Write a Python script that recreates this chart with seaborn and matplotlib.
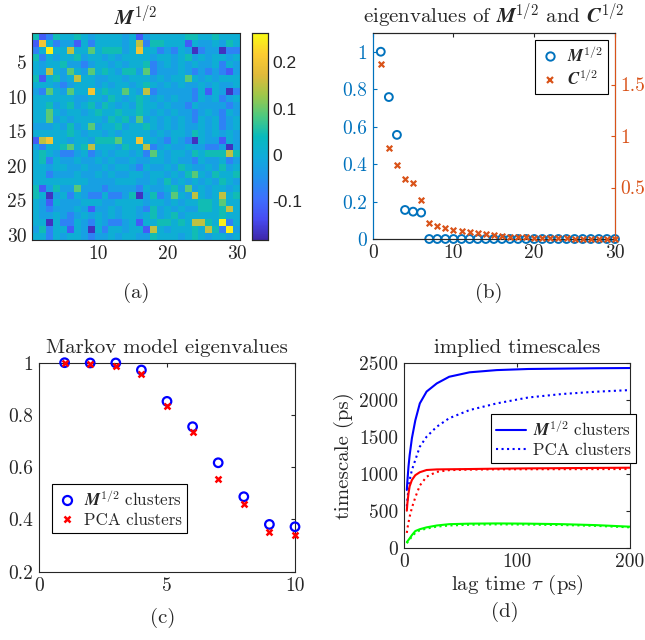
import numpy as np
import matplotlib
matplotlib.use("Agg")
import matplotlib.pyplot as plt
from matplotlib.colors import LinearSegmentedColormap
from matplotlib.lines import Line2D
import seaborn as sns

# ---------------- data ----------------
# (a) M^{1/2} matrix, one char per cell, coded by colour level
heat_rows = [
    "tBbtcctc.c" "ccc.cB.ccc" "ccttcctccc",
    "BOcb..Bcbc" "ccc.cGbttc" "ccBc..c.tc",
    "bcYccGccgc" "ttt.cOccb." "bc.Db..Dbb",
    "tbc.cct.cc" ".c.cccc.cc" ".ct.c.cc.c",
    "c.cct..b.c" "c.c.cctb.c" ".c.c..cbc.",
    "c.Gc.gc.gc" "tc.tt.gb.." ".c.b.b.bB.",
    "tBct.cGcc." ".cc.ccc.c." "ccgc.c.ccc",
    "ccc.b.ccc." "c.cc.ctc.c" ".c..c.c..c",
    ".bgc.gccOc" "tccgc.Gb.." "...bcBc.Db",
    "cccccc..cc" ".tc.ctc.c." "c..bc.cb.c",
    "cct.ct.ct." "tc.c.tcc.c" "..bc....b.",
    "ccgc.cc.ct" "cctcctc.c." "c..b.c.bc.",
    "ccg.c.cccc" ".tct.g.c.c" ".c.bc.cb.c",
    "...c.t.cg." "cct.cctc.c" ".c..c.cb.c",
    "ccccctc.cc" ".c.cccc.c." "cc.tc.c.c.",
    "BGOcc.cc.t" "ttgccOcc.b" "c.bDc..Bc.",
    ".bcctgctGc" "cc.tccGb.c" "..c..bb.D.",
    "ctc.bb.cb." "c.cc.cbgc." "cc.tctttGt",
    "ctbc..c..c" ".c..c..cc." "c..bc..cb.",
    "cc.cc..c.." "c.cc.bc..c" ".tc..c.t.c",
    "ccb...c..c" ".c..cc.cc." "c.tgc.tcct",
    "cccccccc.." "..ccc..c.t" ".c.c.c.tc.",
    "tB.t..g..." "b....bc..c" "t.g.c.cc.c",
    "tcD.cbc.bb" "cbb.tD.tb." "gc.Gc.cGct",
    "c.Bc...ccc" "..cccc.cc." "c.ccttcgcc",
    "c.b...c.B." ".c.cc.bt.c" ".c..ttctGc",
    "c..c.b.c.c" ".c.cc.ct.c" "t.ccccctcc",
    "ccDcbbc.bc" ".bb.cBcctt" "ctcGGtcYbc",
    ".tbccBc.Dc" "bcc.ccBGc." "ccctcGtbY.",
    "ccbc.cc.b." ".c.cc..tcc" "c.ctc.cc.c",
]
level_codes = "DBb.ctgGOY"
level_values = [-0.17, -0.12, -0.07, -0.025, 0.005, 0.045, 0.09, 0.15, 0.20, 0.25]

# (b) eigenvalues
eig_index = list(range(1, 31))
m_eig = [1.0, 0.758, 0.556, 0.155, 0.146, 0.141, 0, 0, 0, 0,
         0, 0, 0, 0, 0, 0, 0, 0, 0, 0,
         0, 0, 0, 0, 0, 0, 0, 0, 0, 0]
c_eig = [1.696, 0.879, 0.722, 0.578, 0.542, 0.379, 0.160, 0.127, 0.111, 0.091,
         0.078, 0.066, 0.056, 0.046, 0.039, 0.029, 0.023, 0.020, 0.016, 0.013,
         0.010, 0.009, 0.008, 0.007, 0.004, 0.003, 0.003, 0.002, 0.001, 0.001]

# (c) Markov model eigenvalues
markov_k = list(range(1, 11))
markov_m = [1.0, 0.999, 0.999, 0.972, 0.852, 0.755, 0.617, 0.487, 0.381, 0.372]
markov_pca = [1.0, 0.995, 0.987, 0.957, 0.834, 0.735, 0.556, 0.459, 0.353, 0.340]

# (d) implied timescales (ps)
lag = [2.5, 3, 4, 5, 7, 10, 14, 20, 29, 40, 58, 82, 110, 140, 170, 200]
ts_blue_m = [780, 900, 1100, 1250, 1480, 1720, 1950, 2110, 2220, 2310, 2370, 2400, 2415, 2420, 2425, 2428]
ts_blue_p = [560, 650, 800, 915, 1050, 1185, 1365, 1500, 1635, 1750, 1860, 1950, 2030, 2077, 2108, 2130]
ts_red_m = [500, 600, 734, 830, 915, 980, 1020, 1050, 1058, 1060, 1063, 1068, 1072, 1075, 1078, 1081]
ts_red_p = [200, 260, 340, 419, 540, 680, 840, 960, 1025, 1048, 1055, 1059, 1060, 1061, 1062, 1063]
ts_green_m = [75, 85, 105, 126, 170, 225, 250, 275, 300, 318, 325, 328, 325, 318, 305, 284]
ts_green_p = [60, 70, 90, 110, 150, 200, 235, 258, 285, 300, 310, 315, 312, 306, 295, 275]

# ---------------- style ----------------
sns.set_theme(style="white")
plt.rcParams.update({
    "font.family": "serif",
    "font.serif": ["cmr10"],
    "mathtext.fontset": "cm",
    "axes.unicode_minus": False,
    "axes.formatter.use_mathtext": True,
    "font.size": 14,
    "axes.edgecolor": "#262626",
    "axes.linewidth": 0.8,
    "xtick.color": "#262626",
    "ytick.color": "#262626",
})

TICK_FS = 14
TITLE_FS = 15
LEG_FS = 12.2

parula = LinearSegmentedColormap.from_list("parula", [
    (0.00, (0.2422, 0.1504, 0.6603)),
    (0.10, (0.2780, 0.2950, 0.9500)),
    (0.20, (0.2400, 0.4400, 0.9950)),
    (0.30, (0.1300, 0.5700, 0.9300)),
    (0.40, (0.0600, 0.6700, 0.8600)),
    (0.50, (0.0300, 0.7300, 0.7400)),
    (0.60, (0.3000, 0.7900, 0.5000)),
    (0.70, (0.6200, 0.7800, 0.2900)),
    (0.80, (0.8800, 0.7300, 0.2300)),
    (0.90, (0.9900, 0.8000, 0.1900)),
    (1.00, (0.9769, 0.9839, 0.0805)),
])

M_BLUE = (0.0, 0.447, 0.741)
C_ORANGE = (0.85, 0.325, 0.098)

fig = plt.figure(figsize=(6.45, 6.40), dpi=100)
W, H = 645, 640


def px_axes(x0, y0, x1, y1):
    return fig.add_axes([x0 / W, 1 - y1 / H, (x1 - x0) / W, (y1 - y0) / H])


def matlab_ticks(ax):
    ax.tick_params(direction="in", length=3, width=0.8, top=True, right=True,
                   labelsize=TICK_FS, pad=4)


def box_legend(ax, handles, labels, anchor, loc, hl=1.2):
    leg = ax.legend(handles, labels, loc=loc, bbox_to_anchor=anchor, borderaxespad=0,
                    fancybox=False, edgecolor="black", framealpha=1, fontsize=LEG_FS,
                    handletextpad=0.4, handlelength=hl, borderpad=0.3, labelspacing=0.25)
    leg.get_frame().set_linewidth(0.8)
    return leg


bold_m = r"$\mathbfit{M}^{1/2}$"
bold_c = r"$\mathbfit{C}^{1/2}$"

# ---------------- (a) heatmap ----------------
mat = np.array([[level_values[level_codes.index(ch)] for ch in row] for row in heat_rows])
ax_a = px_axes(32.3, 33.3, 240, 240)
cax = px_axes(252, 33.3, 267.5, 240)
sns.heatmap(mat, ax=ax_a, cbar_ax=cax, cmap=parula, vmin=-0.185, vmax=0.263,
            cbar_kws={"ticks": [-0.1, 0, 0.1, 0.2]})
for s in ax_a.spines.values():
    s.set_visible(True)
    s.set_color("#262626")
    s.set_linewidth(0.8)
ax_a.set_xticks([9.5, 19.5, 29.5])
ax_a.set_xticklabels(["10", "20", "30"], rotation=0)
ax_a.set_yticks([4.5, 9.5, 14.5, 19.5, 24.5, 29.5])
ax_a.set_yticklabels(["5", "10", "15", "20", "25", "30"], rotation=0)
matlab_ticks(ax_a)
ax_a.set_title(bold_m, fontsize=TITLE_FS, pad=6)
cax.tick_params(direction="in", length=3, width=0.8, right=True, labelsize=12.5)
cax.set_yticklabels(["-0.1", "0", "0.1", "0.2"], family="Liberation Sans")
for s in cax.spines.values():
    s.set_visible(True)
    s.set_color("#262626")
    s.set_linewidth(0.8)
fig.text(136 / W, 1 - 293 / H, "(a)", ha="center", va="center", fontsize=15)

# ---------------- (b) eigenvalues ----------------
ax_b = px_axes(372.7, 33, 615, 239)
sns.scatterplot(x=eig_index, y=m_eig, ax=ax_b, marker="o", s=32,
                facecolor="none", edgecolor=M_BLUE, linewidth=1.4, clip_on=False, zorder=3)
ax_b.set_xlim(0, 30)
ax_b.set_ylim(0, 1.1)
ax_b.set_xticks([0, 10, 20, 30])
ax_b.set_xticklabels(["0", "10", "20", "30"])
ax_b.set_yticks([0, 0.2, 0.4, 0.6, 0.8, 1.0])
ax_b.set_yticklabels(["0", "0.2", "0.4", "0.6", "0.8", "1"])
ax_b.tick_params(direction="in", length=3, width=0.8, top=True, right=False,
                 labelsize=TICK_FS, pad=4)
ax_b.tick_params(axis="y", colors=M_BLUE)
ax_b.spines["left"].set_color(M_BLUE)

ax_b2 = ax_b.twinx()
sns.scatterplot(x=eig_index, y=c_eig, ax=ax_b2, marker="x", s=16,
                color=C_ORANGE, linewidth=1.6, clip_on=False, zorder=3)
ax_b2.set_ylim(0, 2.0)
ax_b2.set_yticks([0.5, 1.0, 1.5])
ax_b2.set_yticklabels(["0.5", "1", "1.5"])
ax_b2.tick_params(direction="in", length=3, width=0.8, labelsize=TICK_FS, pad=4,
                  colors=C_ORANGE)
ax_b2.spines["right"].set_color(C_ORANGE)
ax_b2.spines["left"].set_color(M_BLUE)
ax_b2.set_title("eigenvalues of " + bold_m + " and " + bold_c, fontsize=TITLE_FS, pad=7)
handles_b = [
    Line2D([], [], marker="o", ls="none", mfc="none", mec=M_BLUE, mew=1.4, ms=6),
    Line2D([], [], marker="x", ls="none", color=C_ORANGE, mew=1.6, ms=4.5),
]
box_legend(ax_b2, handles_b, [bold_m, bold_c], (0.971, 0.966), "upper right")
fig.text(489 / W, 1 - 293 / H, "(b)", ha="center", va="center", fontsize=15)

# ---------------- (c) Markov eigenvalues ----------------
ax_c = px_axes(39, 362.7, 295, 571.7)
sns.scatterplot(x=markov_k, y=markov_m, ax=ax_c, marker="o", s=38,
                facecolor="none", edgecolor="blue", linewidth=1.6, clip_on=False, zorder=3)
sns.scatterplot(x=markov_k, y=markov_pca, ax=ax_c, marker="x", s=18,
                color="red", linewidth=1.8, clip_on=False, zorder=4)
ax_c.set_xlim(0, 10)
ax_c.set_ylim(0.2, 1.0)
ax_c.set_xticks([0, 5, 10])
ax_c.set_xticklabels(["0", "5", "10"])
ax_c.set_yticks([0.2, 0.4, 0.6, 0.8, 1.0])
ax_c.set_yticklabels(["0.2", "0.4", "0.6", "0.8", "1"])
matlab_ticks(ax_c)
ax_c.set_title("Markov model eigenvalues", fontsize=TITLE_FS, pad=7)
handles_c = [
    Line2D([], [], marker="o", ls="none", mfc="none", mec="blue", mew=1.6, ms=6.5),
    Line2D([], [], marker="x", ls="none", color="red", mew=1.8, ms=4.5),
]
box_legend(ax_c, handles_c, [bold_m + " clusters", "PCA clusters"], (0.051, 0.42), "upper left")
fig.text(163 / W, 1 - 618 / H, "(c)", ha="center", va="center", fontsize=15)

# ---------------- (d) implied timescales ----------------
ax_d = px_axes(404, 362.7, 630, 547.7)
for vals, col, ls in [(ts_blue_m, "blue", "-"), (ts_blue_p, "blue", ":"),
                      (ts_red_m, "red", "-"), (ts_red_p, "red", ":"),
                      (ts_green_m, "lime", "-"), (ts_green_p, "lime", ":")]:
    sns.lineplot(x=lag, y=vals, ax=ax_d, color=col, linestyle=ls, linewidth=1.5)
ax_d.set_xlim(0, 200)
ax_d.set_ylim(0, 2500)
ax_d.set_xticks([0, 100, 200])
ax_d.set_yticks([0, 500, 1000, 1500, 2000, 2500])
ax_d.set_yticklabels(["0", "500", "1000", "1500", "2000", "2500"])
ax_d.set_xticklabels(["0", "100", "200"])
matlab_ticks(ax_d)
ax_d.set_title("implied timescales", fontsize=TITLE_FS, pad=7)
ax_d.set_xlabel(r"lag time $\tau$ (ps)", fontsize=TITLE_FS, labelpad=1)
ax_d.set_ylabel("timescale (ps)", fontsize=TITLE_FS, labelpad=4)
handles_d = [Line2D([], [], color="blue", lw=1.5, ls="-"),
             Line2D([], [], color="blue", lw=1.5, ls=":")]
box_legend(ax_d, handles_d, [bold_m + " clusters", "PCA clusters"], (1.027, 0.723),
           "upper right", hl=1.8)
fig.text(505 / W, 1 - 612 / H, "(d)", ha="center", va="center", fontsize=15)

fig.savefig("out.png", dpi=100)
